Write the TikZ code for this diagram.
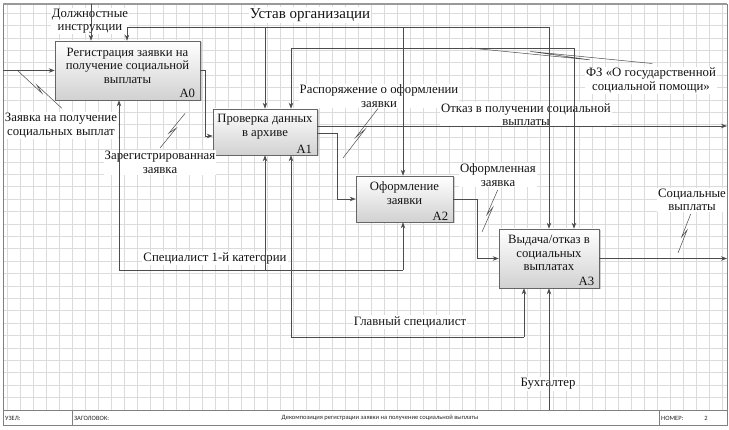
\documentclass[tikz,border=0pt]{standalone}
\usepackage{fontspec}
\setmainfont{Liberation Serif}
\newfontfamily\barfont{Carlito}
\usetikzlibrary{arrows.meta,calc,shadows}
\newcommand{\squig}[4]{\draw[sq] (#1) -- ($(#1)!#4!(#2)$) -- ($(#1)!#3!(#2)!2.5pt!90:(#2)$) -- ($(#2)!2.5pt!-90:(#1)$);}
\tikzset{
  gridc/.style={draw=black!14, line width=0.5pt},
  framec/.style={draw=black!50, line width=0.8pt},
  box/.style={draw=black!60, line width=0.6pt, top color=white, bottom color=black!18,
    drop shadow={shadow xshift=1.5pt, shadow yshift=-1.5pt, opacity=0.35}, inner sep=0pt},
  boxtext/.style={align=center, font=\fontsize{12.7}{13.5}\selectfont, text=black!92, inner sep=0pt},
  idx/.style={font=\fontsize{12.7}{13.5}\selectfont, text=black!92, inner sep=0pt, anchor=south east},
  lbl/.style={align=center, font=\fontsize{12.8}{13.5}\selectfont, text=black!92, fill=white, inner sep=1pt},
  ln/.style={draw=black!70, line width=0.7pt},
  arr/.style={draw=black!70, line width=0.7pt, -{Stealth[length=6pt,width=4.5pt]}},
  sq/.style={draw=black!70, line width=0.5pt},
  bartext/.style={font=\barfont\fontsize{6.5}{7}\selectfont, text=black!85, inner sep=0pt}
}
\begin{document}
\begin{tikzpicture}[x=1pt,y=-1pt]
\useasboundingbox (0,0) rectangle (729,430);
\fill[white] (0,0) rectangle (729,430);
% grid
\foreach \x in {7,20,...,722} \draw[gridc] (\x,4) -- (\x,410);
\foreach \y in {13,25.4,...,405} \draw[gridc] (3,\y) -- (727,\y);
% frame and title bar
\draw[framec] (3,4) rectangle (727,425);
\draw[draw=black!40, line width=1.6pt] (3,4) -- (727,4);
\draw[framec] (3,410) -- (727,410);
\draw[framec] (72,410) -- (72,425);
\draw[framec] (659,410) -- (659,425);
\node[bartext, anchor=west] (bu) at (5,418) {УЗЕЛ:};
\node[bartext, anchor=west] (bz) at (74,418) {ЗАГОЛОВОК:};
\node[bartext] (bt) at (380,418) {Декомпозиция регистрации заявки на получение социальной выплаты};
\node[bartext, anchor=west] (bn) at (661,418) {НОМЕР:};
\node[bartext] (bnum) at (706,418) {2};

% boxes
\node[box, minimum width=145pt, minimum height=59pt] (A0) at (127.5,70.5) {};
\node[box, minimum width=104pt, minimum height=46pt] (A1) at (265,132) {};
\node[box, minimum width=97pt, minimum height=46pt] (A2) at (404.5,199) {};
\node[box, minimum width=100pt, minimum height=59pt] (A3) at (549,258.5) {};
\node[boxtext] (A0t) at (127.5,65.5) {Регистрация заявки на\\получение социальной\\выплаты};
\node[boxtext] (A1t) at (265,126.5) {Проверка данных\\в архиве};
\node[boxtext] (A2t) at (404.5,193) {Оформление\\заявки};
\node[boxtext] (A3t) at (549,253) {Выдача/отказ в\\социальных\\выплатах};
\node[idx] (A0i) at ([shift={(-5,-2)}]A0.south east) {A0};
\node[idx] (A1i) at ([shift={(-5,-2)}]A1.south east) {A1};
\node[idx] (A2i) at ([shift={(-5,-2)}]A2.south east) {A2};
\node[idx] (A3i) at ([shift={(-5,-2)}]A3.south east) {A3};

% labels
\node[lbl] (Ldz) at (90,21) {Должностные\\инструкции};
\node[lbl, font=\fontsize{15}{16}\selectfont] (Lus) at (310,15) {Устав организации};
\node[lbl] (Lin) at (61,125.5) {Заявка на получение\\социальных выплат};
\node[lbl] (Lreg) at (160,162.5) {Зарегистрированная\\заявка};
\node[lbl] (Lrasp) at (379,96) {Распоряжение о оформлении\\заявки};
\node[lbl] (Lrej) at (526,114.5) {Отказ в получении социальной\\выплаты};
\node[lbl] (Lfz) at (651,80.5) {ФЗ «О государственной\\социальной помощи»};
\node[lbl] (Lof) at (498,175) {Оформленная\\заявка};
\node[lbl] (Lsv) at (692,200) {Социальные\\выплаты};
\node[lbl] (Lsp) at (215,258) {Специалист 1-й категории};
\node[lbl] (Lgl) at (410,322) {Главный специалист};
\node[lbl] (Lbu) at (548,384) {Бухгалтер};

% input
\coordinate (in0) at (3,70.5);
\draw[arr] (in0) -- (A0.west);
% controls
\coordinate (dz) at (91,4);
\draw[arr] (dz) -- (dz |- A0.north);
\coordinate (u1) at (127,27);
\coordinate (u2) at (265,27);
\coordinate (u3) at (403,27);
\coordinate (u4) at (549,27);
\draw[ln] (u1) -- (u4);
\draw[arr] (u1) -- (u1 |- A0.north);
\draw[arr] (u2) -- (u2 |- A1.north);
\draw[arr] (u3) -- (u3 |- A2.north);
\draw[arr] (u4) -- (u4 |- A3.north);
\coordinate (f1) at (291,48);
\coordinate (f2) at (574,48);
\draw[ln] (f1) -- (f2);
\draw[arr] (f1) -- (f1 |- A1.north);
\draw[arr] (f2) -- (f2 |- A3.north);
% flows
\draw[arr] (A0.east) -- ++(5,0) |- ([yshift=-4pt]A1.west);
\coordinate (rej) at (727,126);
\draw[arr] (A1.east |- rej) -- (rej);
\coordinate (j12) at (337,133);
\draw[arr] (A1.east |- j12) -- (j12) |- (A2.west);
\coordinate (j23) at (477,199);
\draw[arr] (A2.east) -- (j23) |- (A3.west);
\coordinate (sv) at (727,258.5);
\draw[arr] (A3.east) -- (sv);
% mechanisms
\coordinate (s1) at (119,270);
\coordinate (s2) at (265,270);
\coordinate (s3) at (403,270);
\draw[ln] (s1) -- (s3);
\draw[arr] (s1) -- (s1 |- A0.south);
\draw[arr] (s2) -- (s2 |- A1.south);
\draw[arr] (s3) -- (s3 |- A2.south);
\coordinate (g1) at (291,337);
\coordinate (g2) at (524,337);
\draw[ln] (g1) -- (g2);
\draw[arr] (g1) -- (g1 |- A1.south);
\draw[arr] (g2) -- (g2 |- A3.south);
\coordinate (b1) at (549,410);
\draw[arr] (b1) -- (b1 |- A3.south);
% squiggles
\squig{17,70}{60,110}{0.42}{0.58}
\squig{160,148}{187,115}{0.4}{0.6}
\squig{343,158}{380,110}{0.4}{0.6}
\squig{470,48}{652,66}{0.33}{0.66}
\squig{482,232}{500,191}{0.4}{0.6}
\squig{678,253}{693,215}{0.4}{0.6}
\end{tikzpicture}
\end{document}
